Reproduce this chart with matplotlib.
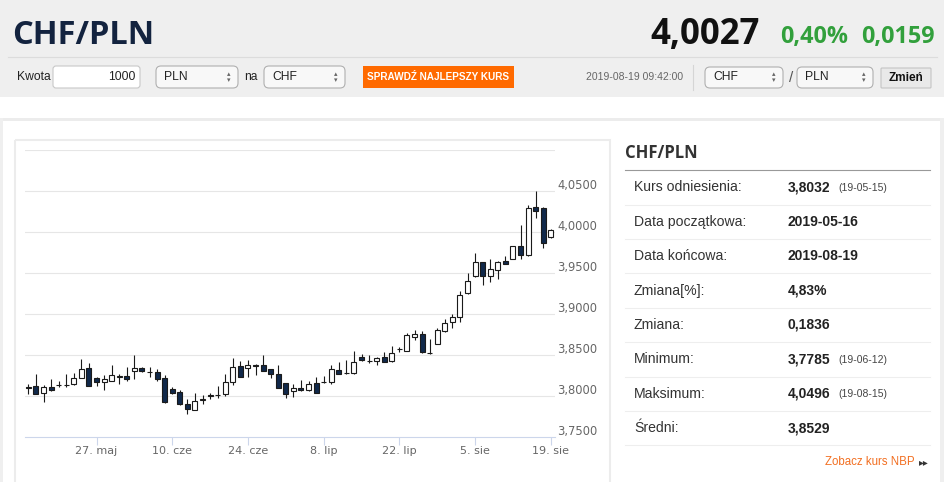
import pandas as pd
import matplotlib
matplotlib.use("Agg")
import matplotlib.pyplot as plt
from matplotlib.patches import Rectangle, FancyBboxPatch

# %%
# daily CHF/PLN candles (trading days 2019-05-14 .. 2019-08-19)
dates = pd.bdate_range("2019-05-14", "2019-08-19")
opens = [3.8106, 3.8117, 3.8042, 3.8108, 3.8131, 3.8131, 3.8150, 3.8221, 3.8346, 3.8221,
         3.8175, 3.8188, 3.8236, 3.8238, 3.8300, 3.8346, 3.8296, 3.8292, 3.8217, 3.8083,
         3.8054, 3.7908, 3.7833, 3.7956, 3.8017, 3.8008, 3.8021, 3.8175, 3.8367, 3.8346,
         3.8379, 3.8383, 3.8325, 3.8271, 3.8154, 3.8060, 3.8101, 3.8068, 3.8163, 3.8169,
         3.8171, 3.8315, 3.8284, 3.8286, 3.8471, 3.8432, 3.8422, 3.8471, 3.8430, 3.8570,
         3.8553, 3.8722, 3.8759, 3.8525, 3.8640, 3.8797, 3.8898, 3.8958, 3.9252, 3.9463,
         3.9630, 3.9467, 3.9537, 3.9646, 3.9671, 3.9833, 3.9720, 4.0301, 4.0297, 3.9943]
highs = [3.8146, 3.8270, 3.8133, 3.8208, 3.8188, 3.8270, 3.8275, 3.8446, 3.8408, 3.8229,
         3.8250, 3.8375, 3.8270, 3.8354, 3.8500, 3.8354, 3.8354, 3.8333, 3.8250, 3.8104,
         3.8075, 3.7967, 3.8033, 3.8008, 3.8042, 3.8125, 3.8271, 3.8458, 3.8425, 3.8438,
         3.8388, 3.8500, 3.8325, 3.8375, 3.8154, 3.8150, 3.8196, 3.8183, 3.8233, 3.8245,
         3.8381, 3.8409, 3.8438, 3.8553, 3.8512, 3.8504, 3.8479, 3.8541, 3.8615, 3.8603,
         3.8767, 3.8809, 3.8788, 3.8700, 3.8835, 3.8945, 3.9005, 3.9280, 3.9496, 3.9740,
         3.9638, 3.9671, 3.9650, 3.9707, 3.9829, 4.0085, 4.0329, 4.0496, 4.0301, 4.0037]
lows = [3.8029, 3.8029, 3.7930, 3.8067, 3.8104, 3.8115, 3.8138, 3.8221, 3.8117, 3.8125,
        3.8071, 3.8188, 3.8146, 3.8188, 3.8208, 3.8292, 3.8229, 3.8188, 3.7917, 3.8021,
        3.7896, 3.7785, 3.7833, 3.7908, 3.7967, 3.7979, 3.8000, 3.8133, 3.8229, 3.8229,
        3.8250, 3.8300, 3.8221, 3.8096, 3.7979, 3.7988, 3.8060, 3.8060, 3.8039, 3.8163,
        3.8150, 3.8265, 3.8265, 3.8265, 3.8422, 3.8397, 3.8377, 3.8410, 3.8418, 3.8533,
        3.8545, 3.8677, 3.8525, 3.8515, 3.8638, 3.8780, 3.8830, 3.8906, 3.9240, 3.9455,
        3.9354, 3.9394, 3.9427, 3.9610, 3.9667, 3.9667, 3.9711, 4.0175, 3.9800, 3.9923]
closes = [3.8102, 3.8029, 3.8113, 3.8071, 3.8135, 3.8135, 3.8225, 3.8333, 3.8117, 3.8167,
          3.8208, 3.8258, 3.8240, 3.8208, 3.8346, 3.8300, 3.8288, 3.8208, 3.7925, 3.8033,
          3.7904, 3.7842, 3.7938, 3.7960, 3.8000, 3.8012, 3.8167, 3.8354, 3.8229, 3.8383,
          3.8371, 3.8304, 3.8271, 3.8096, 3.8029, 3.8103, 3.8072, 3.8142, 3.8039, 3.8173,
          3.8327, 3.8274, 3.8278, 3.8418, 3.8438, 3.8428, 3.8459, 3.8418, 3.8521, 3.8578,
          3.8739, 3.8751, 3.8533, 3.8520, 3.8800, 3.8887, 3.8965, 3.9232, 3.9407, 3.9630,
          3.9463, 3.9549, 3.9630, 3.9610, 3.9829, 3.9720, 4.0297, 4.0256, 3.9868, 4.0027]

tick_dates = ["2019-05-27", "2019-06-10", "2019-06-24", "2019-07-08",
              "2019-07-22", "2019-08-05", "2019-08-19"]
tick_labels = ["27. maj", "10. cze", "24. cze", "8. lip", "22. lip", "5. sie", "19. sie"]
y_ticks = [3.75, 3.80, 3.85, 3.90, 3.95, 4.00, 4.05]
y_labels = ["3,7500", "3,8000", "3,8500", "3,9000", "3,9500", "4,0000", "4,0500"]

stat_labels = ["Kurs odniesienia:", "Data początkowa:", "Data końcowa:", "Zmiana[%]:",
               "Zmiana:", "Minimum:", "Maksimum:", "Średni:"]
stat_values = ["3,8032", "2019-05-16", "2019-08-19", "4,83%", "0,1836",
               "3,7785", "4,0496", "3,8529"]
stat_notes = ["(19-05-15)", "", "", "", "", "(19-06-12)", "(19-08-15)", ""]

# %%
fig = plt.figure(figsize=(9.45, 4.82), dpi=100)
bg = fig.add_axes([0, 0, 1, 1])
bg.set_xlim(0, 945)
bg.set_ylim(482, 0)
bg.axis("off")

UI = "Liberation Sans"


def rect(x, y, w, h, fc, ec="none", lw=0, rounding=0):
    if rounding:
        p = FancyBboxPatch((x, y), w, h, boxstyle=f"round,pad=0,rounding_size={rounding}",
                           fc=fc, ec=ec, lw=lw)
    else:
        p = Rectangle((x, y), w, h, fc=fc, ec=ec, lw=lw)
    bg.add_patch(p)


# page background pieces
rect(0, 0, 945, 97, "#efefef")
rect(0, 118, 945, 3, "#ececec")
rect(0, 118, 3, 364, "#efefef")
rect(940, 118, 5, 364, "#efefef")
rect(15, 140, 594.5, 360, "none", ec="#ececec", lw=1.5)
bg.plot([8, 937], [57, 57], color="#dcdcdc", lw=0.8)

# header
bg.text(12, 44, "CHF/PLN", family="Open Sans", weight="bold", fontsize=23.5,
        color="#13233f", va="baseline")
bg.text(760, 44, "4,0027", family="Open Sans", weight="bold", fontsize=25,
        color="#111111", va="baseline", ha="right")
bg.text(848, 43, "0,40%", family="Open Sans", weight="bold", fontsize=16.8,
        color="#32a03c", va="baseline", ha="right")
bg.text(935, 43, "0,0159", family="Open Sans", weight="bold", fontsize=16.8,
        color="#32a03c", va="baseline", ha="right")

# controls row
bg.text(17, 77.5, "Kwota", family=UI, fontsize=8.7, color="#222", va="center")
rect(53, 66, 87, 22, "white", ec="#c8c8c8", lw=0.8, rounding=3)
bg.text(135, 77.5, "1000", family=UI, fontsize=8.7, color="#222", va="center", ha="right")


def select(x, y, w, h, label):
    rect(x, y, w, h, "#f8f8f8", ec="#b0b0b0", lw=0.8, rounding=5)
    bg.text(x + 8, y + h / 2, label, family=UI, fontsize=8.7, color="#222", va="center")
    bg.text(x + w - 9, y + h / 2 - 3, "▴", family="DejaVu Sans", fontsize=5,
            color="#666", va="center", ha="center")
    bg.text(x + w - 9, y + h / 2 + 3, "▾", family="DejaVu Sans", fontsize=5,
            color="#666", va="center", ha="center")


select(156, 66, 82, 22, "PLN")
bg.text(244, 77.5, "na", family=UI, fontsize=8.7, color="#222", va="center")
select(264, 66, 81, 22, "CHF")
rect(363, 66, 151, 22, "#ff6a00")
bg.text(438.5, 77.5, "SPRAWDŹ NAJLEPSZY KURS", family=UI, weight="bold", fontsize=7.2,
        color="white", va="center", ha="center")
bg.text(683, 77.5, "2019-08-19 09:42:00", family=UI, fontsize=7.5, color="#666",
        va="center", ha="right")
bg.plot([692.5, 692.5], [65, 90], color="#d5d5d5", lw=0.8)
select(705, 67, 78, 21, "CHF")
bg.text(791, 78.5, "/", family=UI, fontsize=11, color="#555", va="center", ha="center")
select(797, 67, 76, 21, "PLN")
rect(881, 68, 50, 20, "#e9e9e9", ec="#c4c4c4", lw=0.8, rounding=1)
bg.text(906, 78, "Zmień", family=UI, weight="bold", fontsize=8.5, color="#111",
        va="center", ha="center")

# right info panel
bg.text(625, 153, "CHF/PLN", family="Open Sans", weight="bold", fontsize=12,
        color="#333", va="center")
bg.plot([625, 930], [169.5, 169.5], color="#999999", lw=0.8)
row_h = 34.4
for i, (lab, val, note) in enumerate(zip(stat_labels, stat_values, stat_notes)):
    yc = 187.3 + i * row_h
    bg.text(634, yc, lab, family=UI, fontsize=10.1, color="#333", va="center")
    bg.text(788, yc, val, family=UI, weight="bold", fontsize=10, color="#222", va="center")
    if note:
        bg.text(838, yc + 0.5, note, family=UI, fontsize=7.5, color="#444", va="center")
    bg.plot([625, 930], [yc + 17.3, yc + 17.3], color="#eeeeee", lw=0.8)
bg.text(915, 462, "Zobacz kurs NBP", family=UI, fontsize=8.3, color="#f26f21",
        va="center", ha="right")
bg.text(918.5, 462, "▸▸", family="DejaVu Sans", fontsize=7, color="#333", va="center")

# %%
# candlestick chart
ax = fig.add_axes([25 / 945, 1 - 437 / 482, 530 / 945, 287 / 482])
ax.set_facecolor("none")
x = list(range(len(dates)))
ax.set_xlim(-0.45, len(dates) - 0.45)
ax.set_ylim(3.75, 4.10)

for v in y_ticks[1:] + [4.10]:
    ax.axhline(v, color="#e6e6e6", lw=0.8, zorder=0)

ax.vlines(x, lows, highs, color="#1a1a1a", lw=0.8, zorder=2)
bodies = [max(abs(c - o), 0.0003) for o, c in zip(opens, closes)]
bottoms = [min(o, c) for o, c in zip(opens, closes)]
faces = ["white" if c >= o else "#10284a" for o, c in zip(opens, closes)]
ax.bar(x, bodies, bottom=bottoms, width=0.66, color=faces, edgecolor="#1a1a1a",
       lw=0.8, zorder=3)

date_str = [d.strftime("%Y-%m-%d") for d in dates]
ax.set_xticks([date_str.index(d) for d in tick_dates])
ax.set_xticklabels(tick_labels)
ax.tick_params(axis="x", length=5.8, width=0.8, color="#ccd6eb", labelcolor="#666666",
               labelsize=8, pad=1)
ax.set_yticks([])
for s in ["top", "left", "right"]:
    ax.spines[s].set_visible(False)
ax.spines["bottom"].set_color("#ccd6eb")
ax.spines["bottom"].set_linewidth(0.8)

for v, lab in zip(y_ticks, y_labels):
    ax.annotate(lab, xy=(1.0, v), xycoords=("axes fraction", "data"),
                xytext=(1.5, 4.3), textcoords="offset points", fontsize=8.3,
                color="#666666", va="center", ha="left", annotation_clip=False)

fig.savefig("out.png", dpi=100)
